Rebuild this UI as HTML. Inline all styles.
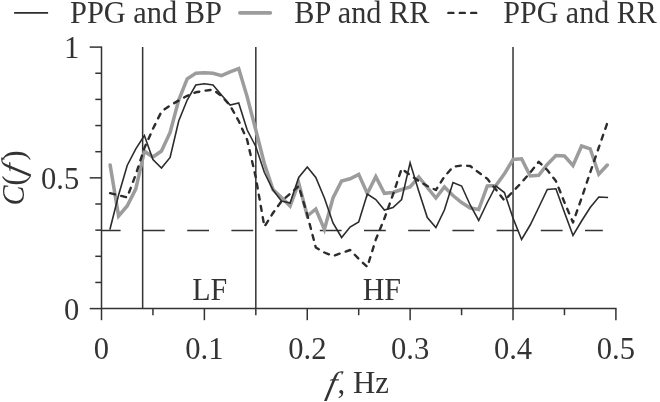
<!DOCTYPE html>
<html><head><meta charset="utf-8"><title>Coherence</title>
<style>html,body{margin:0;padding:0;background:#fff}body{width:660px;height:402px;position:relative;overflow:hidden}</style></head>
<body>
<svg width="660" height="402" viewBox="0 0 660 402" style="position:absolute;left:0;top:0">
<g stroke="#333333" stroke-width="1.5" fill="none">
<path d="M101.5,46.45 V308.6 H616.55"/>
<path d="M89.70,308.60 H101.5"/>
<path d="M95.30,282.45 H101.5"/>
<path d="M95.30,256.30 H101.5"/>
<path d="M95.30,230.15 H101.5"/>
<path d="M95.30,204.00 H101.5"/>
<path d="M89.70,177.85 H101.5"/>
<path d="M95.30,151.70 H101.5"/>
<path d="M95.30,125.55 H101.5"/>
<path d="M95.30,99.40 H101.5"/>
<path d="M95.30,73.25 H101.5"/>
<path d="M89.70,47.10 H101.5"/>
<path d="M101.50,308.6 V320.20"/>
<path d="M152.94,308.6 V315.20"/>
<path d="M204.38,308.6 V320.20"/>
<path d="M255.82,308.6 V315.20"/>
<path d="M307.26,308.6 V320.20"/>
<path d="M358.70,308.6 V315.20"/>
<path d="M410.14,308.6 V320.20"/>
<path d="M461.58,308.6 V315.20"/>
<path d="M513.02,308.6 V320.20"/>
<path d="M564.46,308.6 V315.20"/>
<path d="M615.90,308.6 V320.20"/>
<path d="M142.65,47.1 V308.6"/>
<path d="M255.82,47.1 V308.6"/>
<path d="M513.02,47.1 V308.6"/>
<path d="M101.5,230.4 H602.8" stroke-dasharray="21.8 22.4" stroke-dashoffset="2.7"/>
</g>
<polyline points="110.1,164.9 118.6,216.0 127.2,206.0 135.8,188.8 144.4,151.2 152.9,157.0 161.5,151.0 170.1,132.5 178.7,100.0 187.2,78.8 195.8,73.2 204.4,72.7 213.0,73.2 221.5,75.7 230.1,71.8 238.7,68.5 247.2,97.0 255.8,130.0 264.4,163.8 273.0,189.5 281.5,197.5 290.1,206.0 298.7,183.0 307.3,216.0 315.8,209.0 324.4,229.5 333.0,198.0 341.6,181.0 350.1,178.8 358.7,174.4 367.3,193.5 375.8,176.6 384.4,193.3 393.0,192.5 401.6,189.5 410.1,187.0 418.7,177.0 427.3,187.5 435.9,198.0 444.4,187.0 453.0,195.5 461.6,202.5 470.2,208.0 478.7,209.5 487.3,186.0 495.9,185.5 504.4,173.8 513.0,159.5 521.6,158.8 530.2,176.0 538.7,175.3 547.3,164.5 555.9,155.5 564.5,156.0 573.0,165.5 581.6,146.0 590.2,148.8 598.8,174.2 607.3,165.0" fill="none" stroke="#9c9c9c" stroke-width="3.5" stroke-linejoin="miter" stroke-miterlimit="6" stroke-linecap="round"/>
<polyline points="110.1,228.8 118.6,195.0 127.2,165.5 135.8,148.8 144.4,135.5 152.9,159.5 161.5,168.0 170.1,157.5 178.7,121.0 187.2,100.0 195.8,85.0 204.4,83.8 213.0,85.0 221.5,95.0 230.1,105.0 238.7,103.0 247.2,130.0 255.8,146.5 264.4,172.5 273.0,190.0 281.5,201.0 290.1,203.0 298.7,177.5 307.3,167.0 315.8,177.5 324.4,198.0 333.0,223.0 341.6,237.5 350.1,227.0 358.7,222.0 367.3,194.0 375.8,199.5 384.4,210.0 393.0,207.5 401.6,199.5 410.1,162.8 418.7,191.0 427.3,217.5 435.9,227.5 444.4,210.0 453.0,182.5 461.6,186.0 470.2,205.0 478.7,220.5 487.3,202.5 495.9,186.0 504.4,192.5 513.0,218.0 521.6,239.5 530.2,225.0 538.7,207.5 547.3,189.5 555.9,188.8 564.5,212.5 573.0,235.5 581.6,221.0 590.2,207.5 598.8,197.0 607.3,197.5" fill="none" stroke="#2c2c2c" stroke-width="1.6" stroke-linejoin="miter" stroke-linecap="square"/>
<polyline points="110.1,193.2 118.6,195.3 127.2,197.4 135.8,174.5 144.4,148.0 152.9,129.0 161.5,111.5 170.1,105.5 178.7,100.5 187.2,95.8 195.8,92.3 204.4,90.8 213.0,89.7 221.5,95.8 230.1,105.6 238.7,121.0 247.2,140.0 255.8,177.5 264.4,226.6 273.0,213.0 281.5,201.3 290.1,193.7 298.7,186.0 307.3,215.0 315.8,247.5 324.4,252.5 333.0,256.0 341.6,253.0 350.1,250.0 358.7,258.8 367.3,267.0 375.8,239.5 384.4,218.5 393.0,194.5 401.6,168.8 410.1,175.0 418.7,181.0 427.3,186.0 435.9,190.0 444.4,176.7 453.0,166.8 461.6,165.5 470.2,166.0 478.7,172.5 487.3,178.8 495.9,189.5 504.4,200.5 513.0,191.5 521.6,182.5 530.2,172.5 538.7,161.8 547.3,170.0 555.9,181.0 564.5,202.5 573.0,222.5 581.6,198.0 590.2,172.5 598.8,147.5 607.3,123.0" fill="none" stroke="#2c2c2c" stroke-width="2.4" stroke-dasharray="5.0 6.4" stroke-linecap="round" stroke-linejoin="round"/>
<path d="M14.1,12.9 H48.1" stroke="#2c2c2c" stroke-width="1.7"/>
<path d="M239.8,12.9 H270.4" stroke="#9c9c9c" stroke-width="3.6" stroke-linecap="round"/>
<path d="M448.4,12.9 H479" stroke="#2c2c2c" stroke-width="2.4" stroke-dasharray="5.0 6.4" stroke-linecap="round"/>
<g font-family="Liberation Serif, serif" font-size="30" fill="#333333">
<text transform="translate(70.0,23.3) scale(1,1.068)" font-size="30.4">PPG and BP</text>
<text transform="translate(294.3,23.3) scale(1,1.07)" font-size="30.3">BP and RR</text>
<text transform="translate(503.3,23.3) scale(1,1.08)" font-size="30.0">PPG and RR</text>
<text transform="translate(79.3,57.6) scale(1,1.04)" text-anchor="end" font-size="30.6">1</text>
<text transform="translate(79.3,188.8) scale(1,1.04)" text-anchor="end" font-size="30.6">0.5</text>
<text transform="translate(79.3,319.6) scale(1,1.04)" text-anchor="end" font-size="30.6">0</text>
<text transform="translate(101.5,359.2) scale(1,1.04)" text-anchor="middle" font-size="30.6">0</text>
<text transform="translate(204.4,359.2) scale(1,1.04)" text-anchor="middle" font-size="30.6">0.1</text>
<text transform="translate(307.3,359.2) scale(1,1.04)" text-anchor="middle" font-size="30.6">0.2</text>
<text transform="translate(410.1,359.2) scale(1,1.04)" text-anchor="middle" font-size="30.6">0.3</text>
<text transform="translate(513.0,359.2) scale(1,1.04)" text-anchor="middle" font-size="30.6">0.4</text>
<text transform="translate(615.9,359.2) scale(1,1.04)" text-anchor="middle" font-size="30.6">0.5</text>
<text transform="translate(192.3,299.6) scale(1,1.08)">LF</text>
<text transform="translate(362.7,299.6) scale(1,1.08)">HF</text>
<text transform="translate(325.2,393.5) scale(1,1.08) skewX(-14) scale(1.12,1)" font-style="italic">f</text>
<text transform="translate(337.6,393.4) scale(1,1.05)" font-size="30.8">, Hz</text>
<text transform="translate(24,205.5) rotate(-90) scale(1,1.08)" font-style="italic">C</text>
<text transform="translate(24,185.4) rotate(-90) scale(1,1.08)">(</text>
<text transform="translate(24,175.8) rotate(-90) scale(1,1.08) skewX(-14) scale(1.12,1)" font-style="italic">f</text>
<text transform="translate(24,160.6) rotate(-90) scale(1,1.08)">)</text>
</g>
</svg>
</body></html>
